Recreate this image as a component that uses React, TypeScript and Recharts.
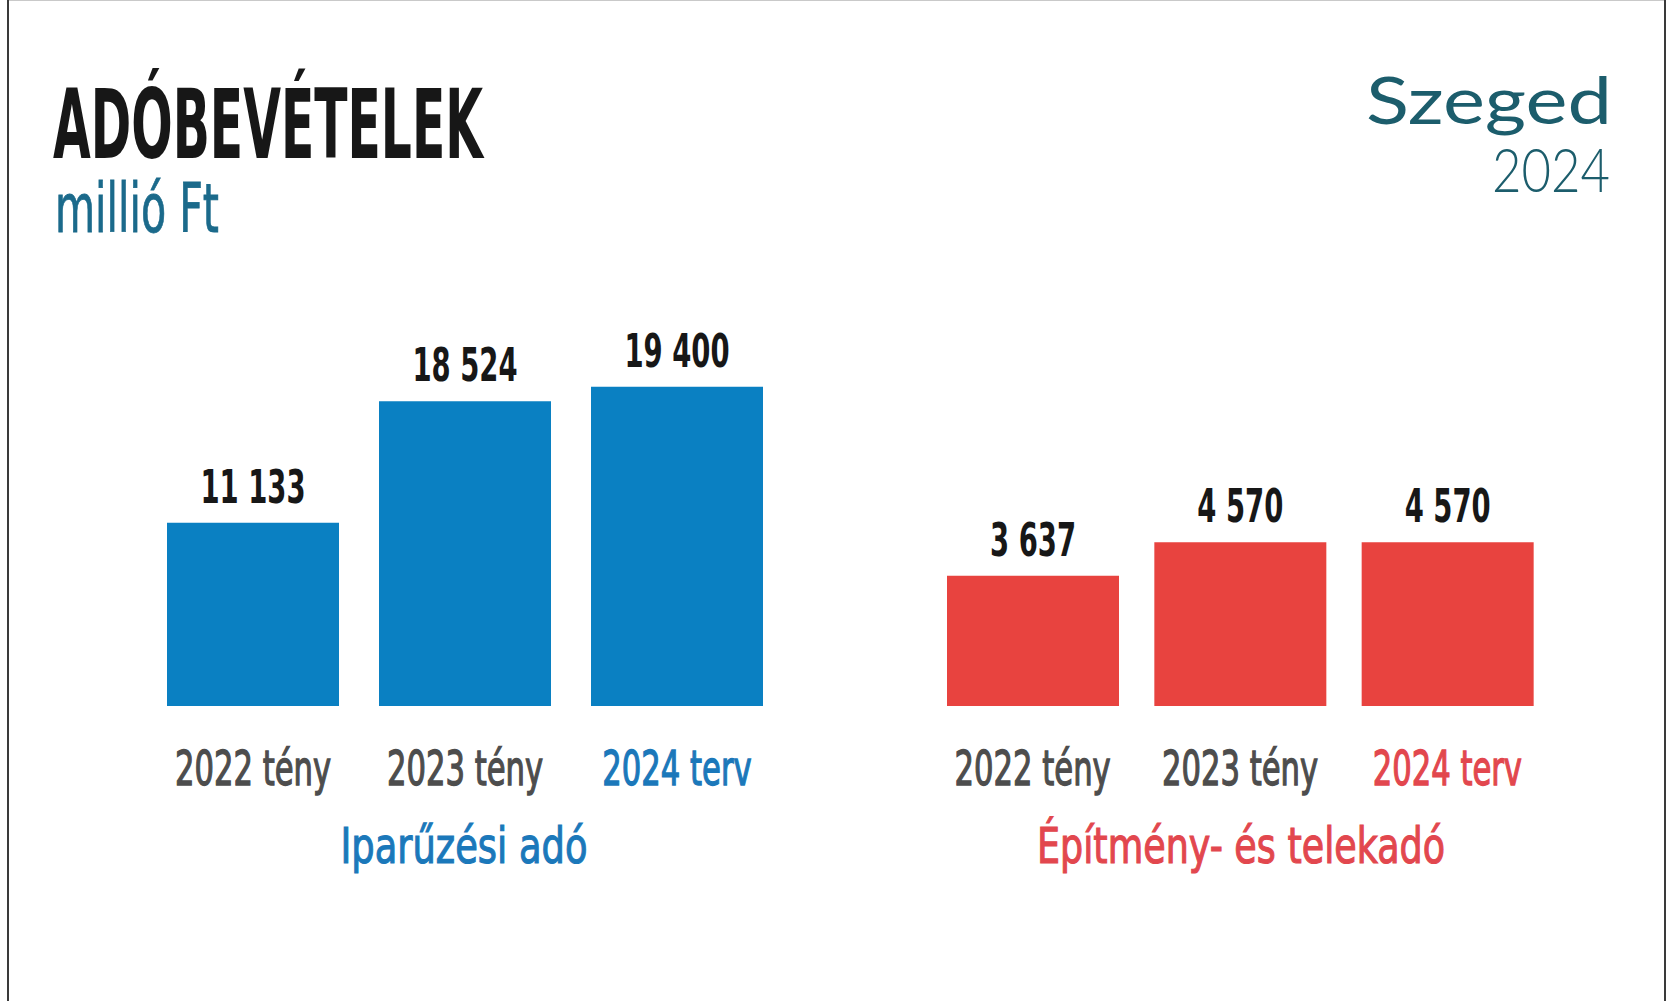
import React from 'react';
import { BarChart, Bar, XAxis, YAxis, LabelList } from 'recharts';

// ---- data ----
const categories = ['2022 tény', '2023 tény', '2024 terv'];
const iparuzesiValues = [11133, 18524, 19400];
const epitmenyValues = [3637, 4570, 4570];
const titleText = 'ADÓBEVÉTELEK';
const unitText = 'millió Ft';
const groupTitles = ['Iparűzési adó', 'Építmény- és telekadó'];
const logoWord = 'Szeged';
const logoYear = '2024';

const leftData = categories.map((cat, i) => ({ cat, value: iparuzesiValues[i] }));
const rightData = categories.map((cat, i) => ({ cat, value: epitmenyValues[i] }));

// ---- styles ----
const W = 1674;
const H = 1001;
const FONT = "'Liberation Sans Narrow','DejaVu Sans Condensed','Liberation Sans',sans-serif";
const BLUE = '#0a80c2';
const RED = '#e8433f';
const BLUE_TEXT = '#1b78ba';
const RED_TEXT = '#e2474e';
const GRAY_TEXT = '#4d4d4d';
const DARK = '#171717';
const TEAL = '#1c5d6c';

const fmt = (n: number) => String(n).replace(/\B(?=(\d{3})+(?!\d))/g, ' ');

const makeValueLabel = () => (props: any) => {
  const { x, y, width, value } = props;
  const cx = Number(x) + Number(width) / 2;
  const ty = Number(y) - 20;
  return (
    <text
      transform={`translate(${cx},${ty}) scale(0.65,1)`}
      textAnchor="middle"
      fontFamily={FONT}
      fontWeight="bold"
      fontSize={47}
      fill={DARK}
    >
      {fmt(Number(value))}
    </text>
  );
};

const makeTick = (highlight: string) => (props: any) => {
  const { x, y, payload } = props;
  const idx = payload && payload.index != null ? payload.index : props.index;
  const color = idx === categories.length - 1 ? highlight : GRAY_TEXT;
  return (
    <text
      transform={`translate(${x},${Number(y) + 79}) scale(0.71,1)`}
      textAnchor="middle"
      fontFamily={FONT}
      fontSize={48}
      fill={color}
      stroke={color}
      strokeWidth={1.3}
    >
      {payload.value}
    </text>
  );
};

function Panel(props: {
  data: { cat: string; value: number }[];
  left: number;
  width: number;
  top: number;
  max: number;
  color: string;
  highlight: string;
}) {
  const { data, left, width, top, max, color, highlight } = props;
  return (
    <div style={{ position: 'absolute', left, top: 0 }}>
      <BarChart
        width={width}
        height={H}
        data={data}
        margin={{ top, right: 0, bottom: 195, left: 0 }}
      >
        <XAxis
          dataKey="cat"
          axisLine={false}
          tickLine={false}
          tickSize={0}
          tickMargin={0}
          interval={0}
          height={100}
          tick={makeTick(highlight)}
        />
        <YAxis hide domain={[0, max]} />
        <Bar dataKey="value" fill={color} barSize={172} isAnimationActive={false}>
          <LabelList dataKey="value" content={makeValueLabel()} />
        </Bar>
      </BarChart>
    </div>
  );
}

export default function App() {
  return (
    <div
      style={{
        position: 'absolute',
        left: 0,
        top: 0,
        width: W,
        height: H,
        background: '#ffffff',
        overflow: 'hidden',
      }}
    >
      {/* frame */}
      <div style={{ position: 'absolute', left: 8, top: 0, width: 1658, height: 1, background: '#c9c9c9' }} />
      <div style={{ position: 'absolute', left: 7, top: 0, width: 2, height: H, background: '#3a3a3a' }} />
      <div style={{ position: 'absolute', left: 1664, top: 0, width: 2, height: H, background: '#3a3a3a' }} />

      <svg
        width={W}
        height={H}
        style={{ position: 'absolute', left: 0, top: 0, pointerEvents: 'none' }}
      >
        <text
          x={53}
          y={158}
          fontFamily={FONT}
          fontWeight="bold"
          fontSize={97}
          fill={DARK}
          textLength={430}
          lengthAdjust="spacingAndGlyphs"
        >
          {titleText}
        </text>
        <text
          x={55}
          y={232}
          fontFamily={FONT}
          fontSize={68}
          fill="#1b6a8b"
          stroke="#1b6a8b"
          strokeWidth={0.8}
          textLength={164}
          lengthAdjust="spacingAndGlyphs"
        >
          {unitText}
        </text>
        <text
          x={1366}
          y={124}
          fontFamily="Lato, 'DejaVu Sans', sans-serif"
          fontSize={66}
          fill={TEAL}
          textLength={246}
          lengthAdjust="spacingAndGlyphs"
        >
          {logoWord}
        </text>
        <text
          x={1492}
          y={192}
          fontFamily="Lato, 'DejaVu Sans', sans-serif"
          fontWeight={300}
          fontSize={62}
          fill={TEAL}
          textLength={118}
          lengthAdjust="spacingAndGlyphs"
        >
          {logoYear}
        </text>
        <text
          x={464}
          y={863}
          textAnchor="middle"
          fontFamily={FONT}
          fontSize={50}
          fill={BLUE_TEXT}
          stroke={BLUE_TEXT}
          strokeWidth={1.1}
          textLength={247}
          lengthAdjust="spacingAndGlyphs"
        >
          {groupTitles[0]}
        </text>
        <text
          x={1241}
          y={863}
          textAnchor="middle"
          fontFamily={FONT}
          fontSize={50}
          fill={RED_TEXT}
          stroke={RED_TEXT}
          strokeWidth={1.1}
          textLength={408}
          lengthAdjust="spacingAndGlyphs"
        >
          {groupTitles[1]}
        </text>
      </svg>

      <Panel data={leftData} left={147} width={636} top={377} max={20000} color={BLUE} highlight={BLUE_TEXT} />
      <Panel data={rightData} left={929} width={622} top={491} max={6000} color={RED} highlight={RED_TEXT} />
    </div>
  );
}
